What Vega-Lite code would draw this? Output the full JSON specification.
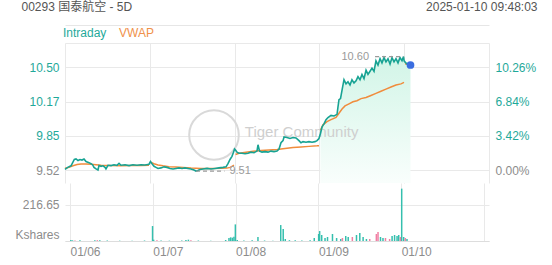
{
  "$schema": "https://vega.github.io/schema/vega-lite/v6.json",
  "background": "white",
  "padding": {"left": 14, "top": 0, "right": 16, "bottom": 0},
  "config": {
    "view": {"stroke": null},
    "font": "Liberation Sans",
    "axis": {"labelFont": "Liberation Sans", "labelFontSize": 12, "labelColor": "#8c8c8c", "gridColor": "#e9e9e9", "ticks": false, "domain": false, "titleFontWeight": "normal"}
  },
  "datasets": {
    "price": [
      {"t":0.000,"price":9.525},{"t":0.032,"price":9.545},{"t":0.071,"price":9.56},{"t":0.110,"price":9.62},{"t":0.130,"price":9.625},{"t":0.153,"price":9.61},{"t":0.177,"price":9.62},{"t":0.200,"price":9.615},{"t":0.224,"price":9.625},{"t":0.248,"price":9.60},{"t":0.283,"price":9.59},{"t":0.307,"price":9.58},{"t":0.327,"price":9.568},{"t":0.342,"price":9.545},{"t":0.366,"price":9.53},{"t":0.389,"price":9.52},{"t":0.401,"price":9.562},{"t":0.425,"price":9.555},{"t":0.448,"price":9.56},{"t":0.472,"price":9.545},{"t":0.483,"price":9.53},{"t":0.507,"price":9.565},{"t":0.542,"price":9.562},{"t":0.578,"price":9.57},{"t":0.613,"price":9.565},{"t":0.637,"price":9.584},{"t":0.660,"price":9.565},{"t":0.708,"price":9.57},{"t":0.755,"price":9.562},{"t":0.802,"price":9.57},{"t":0.849,"price":9.565},{"t":0.896,"price":9.57},{"t":0.943,"price":9.568},{"t":0.991,"price":9.575},
      {"t":1.008,"price":9.60},{"t":1.026,"price":9.58},{"t":1.050,"price":9.555},{"t":1.073,"price":9.545},{"t":1.097,"price":9.535},{"t":1.132,"price":9.54},{"t":1.167,"price":9.55},{"t":1.203,"price":9.545},{"t":1.238,"price":9.535},{"t":1.274,"price":9.53},{"t":1.309,"price":9.535},{"t":1.344,"price":9.54},{"t":1.380,"price":9.535},{"t":1.415,"price":9.54},{"t":1.450,"price":9.535},{"t":1.486,"price":9.53},{"t":1.521,"price":9.52},{"t":1.545,"price":9.51},{"t":1.568,"price":9.515},{"t":1.592,"price":9.525},{"t":1.627,"price":9.53},{"t":1.675,"price":9.535},{"t":1.722,"price":9.53},{"t":1.769,"price":9.535},{"t":1.816,"price":9.54},{"t":1.863,"price":9.545},{"t":1.899,"price":9.55},{"t":1.922,"price":9.58},{"t":1.946,"price":9.62},{"t":1.969,"price":9.65},{"t":1.987,"price":9.69},{"t":1.999,"price":9.72},
      {"t":2.011,"price":9.71},{"t":2.028,"price":9.69},{"t":2.052,"price":9.68},{"t":2.087,"price":9.68},{"t":2.123,"price":9.675},{"t":2.158,"price":9.68},{"t":2.193,"price":9.69},{"t":2.229,"price":9.685},{"t":2.264,"price":9.70},{"t":2.276,"price":9.76},{"t":2.294,"price":9.70},{"t":2.323,"price":9.69},{"t":2.358,"price":9.695},{"t":2.394,"price":9.69},{"t":2.429,"price":9.70},{"t":2.465,"price":9.695},{"t":2.500,"price":9.70},{"t":2.524,"price":9.72},{"t":2.547,"price":9.78},{"t":2.571,"price":9.80},{"t":2.583,"price":9.835},{"t":2.618,"price":9.83},{"t":2.653,"price":9.82},{"t":2.689,"price":9.83},{"t":2.724,"price":9.825},{"t":2.759,"price":9.80},{"t":2.783,"price":9.78},{"t":2.807,"price":9.79},{"t":2.842,"price":9.785},{"t":2.877,"price":9.79},{"t":2.913,"price":9.785},{"t":2.948,"price":9.79},{"t":2.972,"price":9.80},{"t":2.995,"price":9.82},
      {"t":3.013,"price":9.87},{"t":3.031,"price":9.93},{"t":3.054,"price":9.96},{"t":3.078,"price":10.00},{"t":3.101,"price":10.02},{"t":3.137,"price":10.04},{"t":3.172,"price":10.035},{"t":3.208,"price":10.05},{"t":3.219,"price":10.12},{"t":3.231,"price":10.19},{"t":3.249,"price":10.20},{"t":3.267,"price":10.28},{"t":3.290,"price":10.38},{"t":3.314,"price":10.34},{"t":3.337,"price":10.36},{"t":3.361,"price":10.33},{"t":3.384,"price":10.38},{"t":3.408,"price":10.35},{"t":3.432,"price":10.37},{"t":3.455,"price":10.41},{"t":3.479,"price":10.38},{"t":3.502,"price":10.43},{"t":3.526,"price":10.39},{"t":3.550,"price":10.47},{"t":3.573,"price":10.43},{"t":3.597,"price":10.46},{"t":3.620,"price":10.49},{"t":3.644,"price":10.46},{"t":3.667,"price":10.56},{"t":3.691,"price":10.52},{"t":3.715,"price":10.58},{"t":3.738,"price":10.54},{"t":3.762,"price":10.59},{"t":3.785,"price":10.55},{"t":3.809,"price":10.58},{"t":3.833,"price":10.53},{"t":3.856,"price":10.59},{"t":3.880,"price":10.55},{"t":3.903,"price":10.58},{"t":3.927,"price":10.54},{"t":3.950,"price":10.59},{"t":3.974,"price":10.56},{"t":3.992,"price":10.60},{"t":3.999,"price":10.56},
      {"t":4.009,"price":10.55},{"t":4.033,"price":10.53},{"t":4.057,"price":10.54},{"t":4.074,"price":10.52}
    ],
    "vwap": [
      {"day":"01/06","t":0.000,"vwap":9.536},{"day":"01/06","t":0.047,"vwap":9.545},{"day":"01/06","t":0.094,"vwap":9.56},{"day":"01/06","t":0.142,"vwap":9.572},{"day":"01/06","t":0.189,"vwap":9.576},{"day":"01/06","t":0.248,"vwap":9.577},{"day":"01/06","t":0.307,"vwap":9.575},{"day":"01/06","t":0.366,"vwap":9.57},{"day":"01/06","t":0.425,"vwap":9.566},{"day":"01/06","t":0.542,"vwap":9.562},{"day":"01/06","t":0.660,"vwap":9.561},{"day":"01/06","t":0.778,"vwap":9.562},{"day":"01/06","t":0.896,"vwap":9.563},{"day":"01/06","t":0.991,"vwap":9.566},
      {"day":"01/07","t":1.008,"vwap":9.595},{"day":"01/07","t":1.050,"vwap":9.58},{"day":"01/07","t":1.097,"vwap":9.568},{"day":"01/07","t":1.156,"vwap":9.56},{"day":"01/07","t":1.226,"vwap":9.552},{"day":"01/07","t":1.309,"vwap":9.548},{"day":"01/07","t":1.392,"vwap":9.543},{"day":"01/07","t":1.486,"vwap":9.538},{"day":"01/07","t":1.604,"vwap":9.535},{"day":"01/07","t":1.722,"vwap":9.535},{"day":"01/07","t":1.840,"vwap":9.536},{"day":"01/07","t":1.910,"vwap":9.538},{"day":"01/07","t":1.946,"vwap":9.545},{"day":"01/07","t":1.969,"vwap":9.555},{"day":"01/07","t":1.993,"vwap":9.565},
      {"day":"01/08","t":2.011,"vwap":9.668},{"day":"01/08","t":2.052,"vwap":9.68},{"day":"01/08","t":2.134,"vwap":9.69},{"day":"01/08","t":2.217,"vwap":9.698},{"day":"01/08","t":2.311,"vwap":9.705},{"day":"01/08","t":2.406,"vwap":9.71},{"day":"01/08","t":2.500,"vwap":9.715},{"day":"01/08","t":2.594,"vwap":9.725},{"day":"01/08","t":2.689,"vwap":9.735},{"day":"01/08","t":2.783,"vwap":9.74},{"day":"01/08","t":2.877,"vwap":9.745},{"day":"01/08","t":2.972,"vwap":9.75},{"day":"01/08","t":2.995,"vwap":9.752},
      {"day":"01/09","t":3.013,"vwap":9.90},{"day":"01/09","t":3.042,"vwap":9.95},{"day":"01/09","t":3.090,"vwap":9.98},{"day":"01/09","t":3.137,"vwap":10.00},{"day":"01/09","t":3.196,"vwap":10.02},{"day":"01/09","t":3.231,"vwap":10.06},{"day":"01/09","t":3.267,"vwap":10.10},{"day":"01/09","t":3.302,"vwap":10.13},{"day":"01/09","t":3.349,"vwap":10.15},{"day":"01/09","t":3.396,"vwap":10.17},{"day":"01/09","t":3.443,"vwap":10.18},{"day":"01/09","t":3.491,"vwap":10.20},{"day":"01/09","t":3.550,"vwap":10.21},{"day":"01/09","t":3.608,"vwap":10.23},{"day":"01/09","t":3.667,"vwap":10.25},{"day":"01/09","t":3.726,"vwap":10.27},{"day":"01/09","t":3.785,"vwap":10.29},{"day":"01/09","t":3.844,"vwap":10.31},{"day":"01/09","t":3.903,"vwap":10.33},{"day":"01/09","t":3.962,"vwap":10.34},{"day":"01/09","t":3.998,"vwap":10.355},
      {"day":"01/10","t":4.009,"vwap":10.53},{"day":"01/10","t":4.074,"vwap":10.535}
    ],
    "extremes": [
      {"kind":"max","t1":3.656,"t2":3.992,"price":10.60,"label":"10.60"},
      {"kind":"min","t1":1.545,"t2":1.88,"price":9.51,"label":"9.51"}
    ],
    "watermark": [
      {"t":2.12,"price":9.882,"label":"Tiger Community","ct":1.757,"cprice":9.853}
    ],
    "volume": [
      {"t":0.01,"vol":6,"dir":"up"},{"t":0.03,"vol":4,"dir":"up"},{"t":0.06,"vol":3,"dir":"down"},{"t":0.12,"vol":5,"dir":"up"},{"t":0.30,"vol":4,"dir":"up"},{"t":0.33,"vol":5,"dir":"down"},{"t":0.36,"vol":4,"dir":"up"},{"t":0.45,"vol":3,"dir":"up"},{"t":0.60,"vol":2,"dir":"up"},{"t":0.75,"vol":2,"dir":"up"},{"t":0.90,"vol":3,"dir":"up"},{"t":0.997,"vol":90,"dir":"up"},
      {"t":1.01,"vol":8,"dir":"up"},{"t":1.05,"vol":4,"dir":"down"},{"t":1.10,"vol":3,"dir":"up"},{"t":1.20,"vol":2,"dir":"up"},{"t":1.35,"vol":3,"dir":"up"},{"t":1.40,"vol":6,"dir":"up"},{"t":1.43,"vol":8,"dir":"up"},{"t":1.46,"vol":5,"dir":"down"},{"t":1.55,"vol":3,"dir":"up"},{"t":1.70,"vol":2,"dir":"up"},{"t":1.88,"vol":6,"dir":"up"},{"t":1.92,"vol":18,"dir":"up"},{"t":1.94,"vol":22,"dir":"up"},{"t":1.96,"vol":20,"dir":"up"},{"t":1.98,"vol":25,"dir":"up"},{"t":1.997,"vol":100,"dir":"up"},
      {"t":2.02,"vol":6,"dir":"up"},{"t":2.10,"vol":3,"dir":"up"},{"t":2.20,"vol":4,"dir":"up"},{"t":2.27,"vol":24,"dir":"up"},{"t":2.35,"vol":3,"dir":"up"},{"t":2.45,"vol":2,"dir":"up"},{"t":2.545,"vol":96,"dir":"up"},{"t":2.575,"vol":72,"dir":"up"},{"t":2.60,"vol":12,"dir":"up"},{"t":2.65,"vol":5,"dir":"up"},{"t":2.72,"vol":4,"dir":"up"},{"t":2.80,"vol":3,"dir":"up"},{"t":2.90,"vol":5,"dir":"up"},{"t":2.95,"vol":18,"dir":"up"},
      {"t":3.003,"vol":42,"dir":"up"},{"t":3.015,"vol":60,"dir":"up"},{"t":3.04,"vol":36,"dir":"up"},{"t":3.08,"vol":18,"dir":"up"},{"t":3.11,"vol":24,"dir":"up"},{"t":3.17,"vol":42,"dir":"up"},{"t":3.22,"vol":18,"dir":"up"},{"t":3.27,"vol":12,"dir":"up"},{"t":3.29,"vol":18,"dir":"down"},{"t":3.33,"vol":30,"dir":"up"},{"t":3.36,"vol":24,"dir":"up"},{"t":3.41,"vol":24,"dir":"down"},{"t":3.46,"vol":36,"dir":"up"},{"t":3.50,"vol":48,"dir":"up"},{"t":3.54,"vol":24,"dir":"up"},{"t":3.58,"vol":12,"dir":"up"},{"t":3.62,"vol":12,"dir":"down"},{"t":3.70,"vol":42,"dir":"down"},{"t":3.72,"vol":54,"dir":"down"},{"t":3.75,"vol":24,"dir":"up"},{"t":3.78,"vol":18,"dir":"up"},{"t":3.81,"vol":18,"dir":"down"},{"t":3.86,"vol":12,"dir":"down"},{"t":3.89,"vol":30,"dir":"up"},{"t":3.92,"vol":36,"dir":"up"},{"t":3.95,"vol":30,"dir":"up"},{"t":3.97,"vol":36,"dir":"up"},{"t":3.99,"vol":24,"dir":"down"},
      {"t":4.006,"vol":315,"dir":"up"},{"t":4.03,"vol":24,"dir":"up"},{"t":4.05,"vol":18,"dir":"down"},{"t":4.07,"vol":12,"dir":"up"}
    ]
  },
  "spacing": 0,
  "resolve": {"scale": {"color": "independent"}, "legend": {"color": "independent"}},
  "vconcat": [
    {
      "width": 424,
      "height": 140,
      "resolve": {"axis": {"x": "independent", "y": "independent"}},
      "layer": [
        {
          "data": {"name": "price"},
          "transform": [{"filter": "datum.t >= 3"}],
          "mark": {"type": "area", "color": {"gradient": "linear", "x1": 0, "y1": 0, "x2": 0, "y2": 1, "stops": [{"offset": 0, "color": "#d2f5e7"}, {"offset": 1, "color": "#f9fefc"}]}},
          "encoding": {
            "x": {"field": "t", "type": "quantitative", "scale": {"domain": [0, 5], "nice": false, "zero": false},
              "axis": {"orient": "top", "offset": 18, "domain": true, "domainColor": "#e6e6e6", "labels": false, "grid": false, "ticks": false, "values": [0],
                "title": "2025-01-10  09:48:03", "titleX": 472, "titleY": -19, "titleAlign": "right", "titleAnchor": "end", "titleBaseline": "middle", "titleColor": "#555555", "titleFontSize": 12, "titleFont": "Liberation Sans"}},
            "y": {"field": "price", "type": "quantitative", "scale": {"domain": [9.3962, 10.7295], "nice": false, "zero": false},
              "axis": {"orient": "left", "values": [9.52, 9.8456, 10.1712, 10.4968, 10.7295], "grid": true,
                "labelExpr": "datum.value > 10.7 ? '' : format(datum.value, '.2f')",
                "labelColor": {"condition": {"test": "datum.value > 9.6", "value": "#1fa99a"}, "value": "#8c8c8c"},
                "labelPadding": 6, "minExtent": 50, "maxExtent": 50,
                "title": "00293 国泰航空 - 5D", "titleAngle": 0, "titleX": -44, "titleY": -37, "titleAlign": "left", "titleAnchor": "start", "titleBaseline": "middle", "titleColor": "#555555", "titleFontSize": 12, "titleFont": "Liberation Sans, Noto Sans CJK SC, sans-serif"}},
            "y2": {"datum": 9.3962}
          }
        },
        {
          "data": {"name": "watermark"},
          "mark": {"type": "point", "shape": "circle", "filled": false, "size": 2460, "stroke": "#d9d9d9", "strokeWidth": 2, "opacity": 1},
          "encoding": {
            "x": {"field": "ct", "type": "quantitative", "axis": null},
            "y": {"field": "cprice", "type": "quantitative", "axis": null}
          }
        },
        {
          "data": {"name": "watermark"},
          "mark": {"type": "text", "align": "left", "baseline": "middle", "fontSize": 15, "color": "#cfcfcf", "font": "Liberation Sans"},
          "encoding": {
            "x": {"field": "t", "type": "quantitative", "axis": null},
            "y": {"field": "price", "type": "quantitative", "axis": null},
            "text": {"field": "label"}
          }
        },
        {
          "data": {"name": "vwap"},
          "mark": {"type": "line", "strokeWidth": 1.5},
          "encoding": {
            "x": {"field": "t", "type": "quantitative", "axis": null},
            "y": {"field": "vwap", "type": "quantitative", "axis": null},
            "detail": {"field": "day"},
            "color": {"datum": "VWAP", "type": "nominal"}
          }
        },
        {
          "data": {"name": "price"},
          "mark": {"type": "line", "strokeWidth": 1.6},
          "encoding": {
            "x": {"field": "t", "type": "quantitative",
              "axis": {"orient": "bottom", "values": [0, 1, 2, 3, 4, 5], "grid": true, "labels": false, "ticks": false, "domain": false, "title": null}},
            "y": {"field": "price", "type": "quantitative",
              "axis": {"orient": "right", "values": [9.52, 9.8456, 10.1712, 10.4968], "grid": false,
                "labelExpr": "format((datum.value / 9.52 - 1) * 100, '.2f') + '%'",
                "labelColor": {"condition": {"test": "datum.value > 9.6", "value": "#1fa99a"}, "value": "#8c8c8c"},
                "labelPadding": 6, "title": null}},
            "color": {"datum": "Intraday", "type": "nominal",
              "scale": {"domain": ["Intraday", "VWAP"], "range": ["#17a393", "#f08c3c"]},
              "legend": {"orient": "none", "legendX": -14, "legendY": -16, "direction": "horizontal", "title": null,
                "symbolSize": 0, "symbolOpacity": 0, "symbolStrokeWidth": 0, "labelOffset": 0, "columnPadding": 0,
                "labelFontSize": 12, "labelFont": "Liberation Sans",
                "encode": {"labels": {"update": {"fill": {"signal": "datum.label === 'VWAP' ? '#f0914a' : '#1fa99a'"}}}}}}
          }
        },
        {
          "data": {"name": "extremes"},
          "mark": {"type": "rule", "strokeDash": [4, 3], "color": "#9a9a9a", "strokeWidth": 1.3},
          "encoding": {
            "x": {"field": "t1", "type": "quantitative", "axis": null},
            "x2": {"field": "t2"},
            "y": {"field": "price", "type": "quantitative", "axis": null}
          }
        },
        {
          "data": {"name": "extremes"},
          "transform": [{"filter": "datum.kind === 'max'"}],
          "mark": {"type": "text", "align": "right", "baseline": "middle", "dx": -6, "fontSize": 11, "color": "#9a9a9a"},
          "encoding": {
            "x": {"field": "t1", "type": "quantitative", "axis": null},
            "y": {"field": "price", "type": "quantitative", "axis": null},
            "text": {"field": "label"}
          }
        },
        {
          "data": {"name": "extremes"},
          "transform": [{"filter": "datum.kind === 'min'"}],
          "mark": {"type": "text", "align": "left", "baseline": "middle", "dx": 5, "fontSize": 11, "color": "#9a9a9a"},
          "encoding": {
            "x": {"field": "t2", "type": "quantitative", "axis": null},
            "y": {"field": "price", "type": "quantitative", "axis": null},
            "text": {"field": "label"}
          }
        },
        {
          "data": {"name": "price"},
          "transform": [{"filter": "datum.t > 4.07"}],
          "mark": {"type": "point", "filled": true, "size": 60, "color": "#3b6de0", "opacity": 1},
          "encoding": {
            "x": {"field": "t", "type": "quantitative", "axis": null},
            "y": {"field": "price", "type": "quantitative", "axis": null}
          }
        }
      ]
    },
    {
      "width": 424,
      "height": 58,
      "data": {"name": "volume"},
      "mark": {"type": "bar", "size": 1.5},
      "encoding": {
        "x": {"field": "t", "type": "quantitative", "scale": {"domain": [0, 5], "nice": false, "zero": false},
          "axis": {"values": [0, 1, 2, 3, 4, 5], "grid": true, "domain": true, "domainColor": "#dddddd",
            "labelExpr": "datum.value < 5 ? ['01/06', '01/07', '01/08', '01/09', '01/10'][datum.value] : ''",
            "labelAlign": "left", "labelFlush": false, "labelOverlap": false, "labelPadding": 5, "title": null}},
        "y": {"field": "vol", "type": "quantitative", "scale": {"domain": [0, 349], "nice": false},
          "axis": {"values": [0, 216.65], "grid": true,
            "labelExpr": "datum.value === 0 ? 'Kshares' : '216.65'",
            "labelBaseline": {"condition": {"test": "datum.value === 0", "value": "bottom"}, "value": "middle"},
            "labelPadding": 6, "minExtent": 50, "maxExtent": 50, "title": null}},
        "color": {"field": "dir", "type": "nominal", "scale": {"domain": ["up", "down"], "range": ["#35bfae", "#f07fa3"]}, "legend": null}
      }
    }
  ]
}
